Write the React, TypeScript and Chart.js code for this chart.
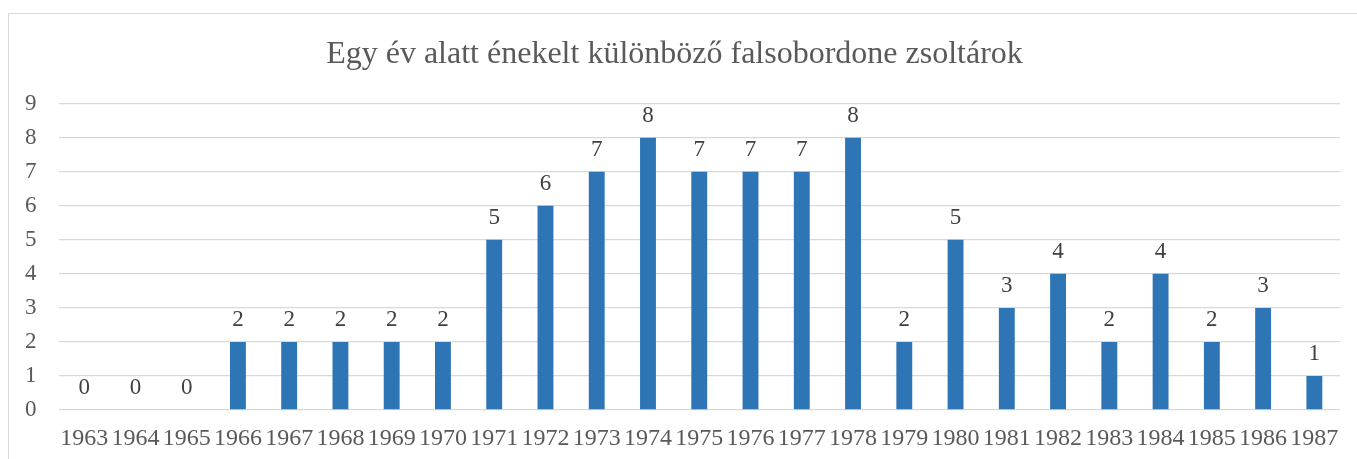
import React, { useEffect, useRef } from "react";
import { Chart, registerables } from "chart.js";

Chart.register(...registerables);

const TITLE = "Egy év alatt énekelt különböző falsobordone zsoltárok";
const YEARS = [
  "1963", "1964", "1965", "1966", "1967", "1968", "1969", "1970", "1971", "1972",
  "1973", "1974", "1975", "1976", "1977", "1978", "1979", "1980", "1981", "1982",
  "1983", "1984", "1985", "1986", "1987",
];
const COUNTS = [0, 0, 0, 2, 2, 2, 2, 2, 5, 6, 7, 8, 7, 7, 7, 8, 2, 5, 3, 4, 2, 4, 2, 3, 1];
const Y_MAX = 9;

const FONT = "'Liberation Serif', 'Times New Roman', serif";

const labelPlugin = {
  id: "barValueLabels",
  afterDatasetsDraw(chart: any) {
    const ctx = chart.ctx;
    const meta = chart.getDatasetMeta(0);
    const data = chart.data.datasets[0].data as number[];
    ctx.save();
    ctx.font = `23px ${FONT}`;
    ctx.fillStyle = "#404040";
    ctx.textAlign = "center";
    ctx.textBaseline = "middle";
    meta.data.forEach((bar: any, i: number) => {
      ctx.fillText(String(data[i]), bar.x, bar.y - 22);
    });
    ctx.restore();
  },
};

export default function App() {
  const ref = useRef<HTMLCanvasElement | null>(null);
  useEffect(() => {
    if (!ref.current) return;
    const chart = new Chart(ref.current, {
      type: "bar",
      data: {
        labels: YEARS,
        datasets: [
          {
            data: COUNTS,
            backgroundColor: "#2E75B6",
            barPercentage: 0.31,
            categoryPercentage: 1,
          },
        ],
      },
      options: {
        animation: false,
        responsive: false,
        maintainAspectRatio: false,
        layout: { padding: { left: 0, right: 27, top: 0, bottom: 0 } },
        plugins: {
          legend: { display: false },
          tooltip: { enabled: false },
          title: {
            display: true,
            text: TITLE,
            color: "#595959",
            font: { family: FONT, size: 32, weight: "normal" },
            padding: { top: 21, bottom: 30.3 },
          },
        },
        scales: {
          x: {
            grid: { display: false, drawTicks: false },
            border: { display: false },
            ticks: {
              color: "#595959",
              font: { family: FONT, size: 24 },
              padding: 14.5,
              maxRotation: 0,
              autoSkip: false,
            },
            afterFit(scale: any) {
              scale.height = 62;
            },
          },
          y: {
            min: 0,
            max: Y_MAX,
            grid: { color: "#d9d9d9", lineWidth: 1.3, drawTicks: false },
            border: { display: false },
            ticks: {
              stepSize: 1,
              color: "#595959",
              font: { family: FONT, size: 23 },
              padding: 22,
            },
            afterFit(scale: any) {
              scale.width = 49.5;
            },
          },
        },
      },
      plugins: [labelPlugin],
    });
    return () => chart.destroy();
  }, []);
  return (
    <div
      style={{
        position: "absolute",
        left: 8,
        top: 13,
        width: 1360,
        height: 460,
        border: "1px solid #d9d9d9",
        background: "#fff",
      }}
    >
      <canvas ref={ref} width={1358} height={458} style={{ display: "block" }} />
    </div>
  );
}
